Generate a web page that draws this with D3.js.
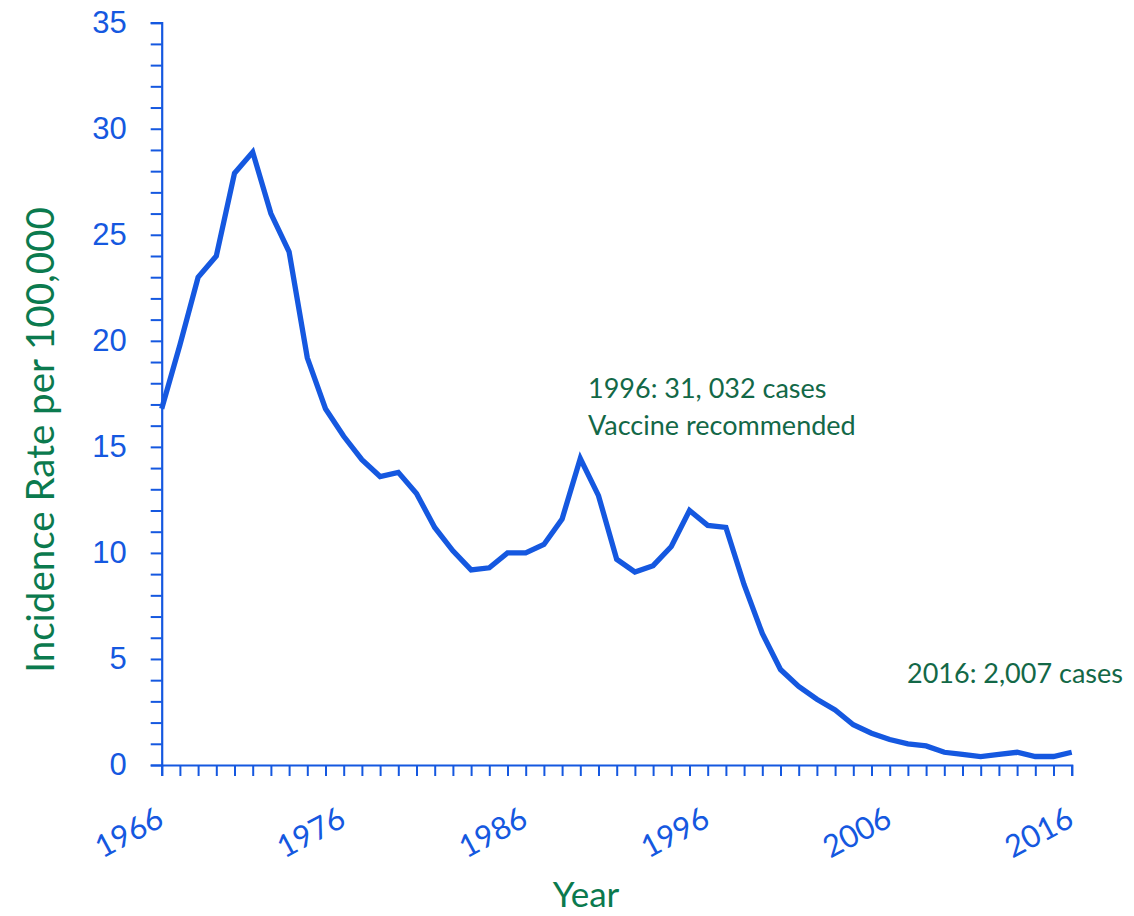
<!DOCTYPE html>
<html>
<head>
<meta charset="utf-8">
<script src="https://cdn.jsdelivr.net/npm/d3@7"></script>
<style>
  body { margin: 0; background: #fff; }
  svg { display: block; font-family: Lato, "Open Sans", sans-serif; }
</style>
</head>
<body>
<div id="chart"></div>
<script>
// Hepatitis A incidence rate per 100,000, 1966-2016
const years = d3.range(1966, 2017);
const rates = [
  16.8, 19.8, 23.0, 24.0, 27.9, 28.9, 26.0, 24.2, 19.2, 16.8,
  15.5, 14.4, 13.6, 13.8, 12.8, 11.2, 10.1, 9.2, 9.3, 10.0,
  10.0, 10.4, 11.6, 14.45, 12.7, 9.7, 9.1, 9.4, 10.3, 12.0,
  11.3, 11.2, 8.5, 6.2, 4.5, 3.7, 3.1, 2.6, 1.9, 1.5,
  1.2, 1.0, 0.9, 0.6, 0.5, 0.4, 0.5, 0.6, 0.4, 0.4,
  0.6
];
const yTicks = [0, 5, 10, 15, 20, 25, 30, 35];
const xTickLabels = [1966, 1976, 1986, 1996, 2006, 2016];
const notes = [
  { lines: ["1996: 31, 032 cases", "Vaccine recommended"], x: 588, y: 398 },
  { lines: ["2016: 2,007 cases"], x: 907, y: 683 }
];

const width = 1134, height = 916;
const blue = '#1558e0', green = '#0b7a4e', noteGreen = '#136847';
const margin = { top: 22.7, left: 161.7, right: 62.3, bottom: 151 };

const svg = d3.select('#chart').append('svg')
  .attr('width', width)
  .attr('height', height);

const x = d3.scaleLinear()
  .domain([1966, 2016])
  .range([margin.left, width - margin.right]);
const y = d3.scaleLinear()
  .domain([0, 35])
  .range([height - margin.bottom, margin.top]);

// y axis
const axisY = d3.axisLeft(y)
  .tickValues(d3.range(0, 36))
  .tickSize(11)
  .tickFormat(d => yTicks.includes(d) ? d : '');
const gy = svg.append('g')
  .attr('transform', `translate(${margin.left},0)`)
  .call(axisY);
gy.select('.domain').attr('stroke', blue).attr('stroke-width', 2.2);
gy.selectAll('.tick line').attr('stroke', blue).attr('stroke-width', 2);
gy.selectAll('.tick text')
  .attr('fill', blue)
  .attr('x', -35)
  .style('font-size', '31px');

// x axis
const axisX = d3.axisBottom(x)
  .tickValues(years)
  .tickSize(11)
  .tickFormat('');
const gx = svg.append('g')
  .attr('transform', `translate(0,${y(0)})`)
  .call(axisX);
gx.select('.domain').attr('stroke', blue).attr('stroke-width', 2.2);
gx.selectAll('.tick line').attr('stroke', blue).attr('stroke-width', 2);

svg.append('g')
  .selectAll('text')
  .data(xTickLabels)
  .join('text')
    .attr('transform', d => `translate(${x(d) + 4},${y(0) + 60}) rotate(-28)`)
    .attr('text-anchor', 'end')
    .attr('fill', blue)
    .style('font-size', '31px')
    .text(d => d);

// line
const line = d3.line()
  .x((d, i) => x(years[i]))
  .y(d => y(d));
svg.append('path')
  .datum(rates)
  .attr('fill', 'none')
  .attr('stroke', blue)
  .attr('stroke-width', 5.3)
  .attr('stroke-linejoin', 'miter')
  .attr('d', line);

// axis titles
svg.append('text')
  .attr('transform', `translate(54,440) rotate(-90)`)
  .attr('text-anchor', 'middle')
  .attr('fill', green)
  .style('font-size', '38.5px')
  .text('Incidence Rate per 100,000');

svg.append('text')
  .attr('x', 586)
  .attr('y', 907)
  .attr('text-anchor', 'middle')
  .attr('fill', green)
  .style('font-size', '35px')
  .text('Year');

// annotations
notes.forEach(n => {
  const t = svg.append('text')
    .attr('fill', noteGreen)
    .style('font-size', '27px');
  n.lines.forEach((l, i) => {
    t.append('tspan')
      .attr('x', n.x)
      .attr('y', n.y + i * 37)
      .text(l);
  });
});
</script>
</body>
</html>
